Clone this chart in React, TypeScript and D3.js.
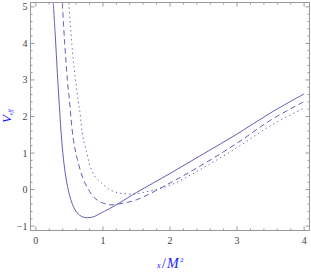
import React from "react";
import * as d3 from "d3";

const xTicks = [0, 1, 2, 3, 4];
const yTicks = [-1, 0, 1, 2, 3, 4, 5];

const solidX = [0.26, 0.29, 0.32, 0.35, 0.385, 0.42, 0.46, 0.52, 0.58, 0.65, 0.72, 0.78, 0.87, 0.95, 1.1, 1.25, 1.5, 2.0, 2.5, 3.0, 3.5, 4.0];
const solidY = [5.1, 4.2, 3.2, 2.3, 1.36, 0.7, 0.2, -0.27, -0.54, -0.7, -0.76, -0.77, -0.74, -0.66, -0.52, -0.36, -0.08, 0.44, 0.98, 1.52, 2.1, 2.62];

const dashedX = [0.395, 0.43, 0.47, 0.5, 0.56, 0.62, 0.71, 0.8, 0.87, 0.95, 1.05, 1.12, 1.25, 1.5, 2.0, 2.5, 3.0, 3.5, 4.0];
const dashedY = [5.1, 4.0, 3.0, 2.45, 1.36, 0.82, 0.27, -0.05, -0.22, -0.33, -0.4, -0.42, -0.39, -0.28, 0.18, 0.7, 1.27, 1.9, 2.41];

const dottedX = [0.49, 0.56, 0.63, 0.66, 0.68, 0.71, 0.76, 0.81, 0.88, 0.98, 1.1, 1.23, 1.45, 1.6, 2.0, 2.5, 3.0, 3.5, 4.0];
const dottedY = [5.1, 3.5, 2.45, 2.08, 1.72, 1.36, 1.0, 0.63, 0.36, 0.18, 0.0, -0.09, -0.12, -0.08, 0.12, 0.6, 1.15, 1.75, 2.23];

const W = 311, H = 273;
const L = 30.5, R = 309.5, T = 2.5, B = 230.5;

export default function App() {
  const x = d3.scaleLinear().domain([-0.08, 4.08]).range([L, R]);
  const y = d3.scaleLinear().domain([-1.12, 5.12]).range([B, T]);
  const line = d3
    .line<[number, number]>()
    .x((d) => x(d[0]))
    .y((d) => y(d[1]))
    .curve(d3.curveCatmullRom.alpha(0.5));
  const mk = (xs: number[], ys: number[]) => xs.map((v, i) => [v, ys[i]] as [number, number]);

  const xMinor = d3.range(0, 4.001, 0.2).filter((v) => Math.abs(v - Math.round(v)) > 1e-6);
  const yMinor = d3.range(-1, 5.001, 0.2).filter((v) => Math.abs(v - Math.round(v)) > 1e-6);
  const frameColor = "#999";
  const curveColor = "#6060b4";

  return (
    <svg width={W} height={H} style={{ position: "absolute", left: 0, top: 0 }}>
      <defs>
        <clipPath id="plotclip">
          <rect x={L} y={T} width={R - L} height={B - T} />
        </clipPath>
      </defs>
      <rect x={0} y={0} width={W} height={H} fill="white" />
      <g clipPath="url(#plotclip)" fill="none" stroke={curveColor} strokeWidth={1}>
        <path d={line(mk(solidX, solidY)) || ""} />
        <path d={line(mk(dashedX, dashedY)) || ""} strokeDasharray="5.5,3.5" />
        <path d={line(mk(dottedX, dottedY)) || ""} strokeDasharray="1.3,3.2" />
      </g>
      <rect x={L} y={T} width={R - L} height={B - T} fill="none" stroke={frameColor} strokeWidth={1} />
      <g stroke={frameColor} strokeWidth={1}>
        {xTicks.map((t) => (
          <g key={"xt" + t}>
            <line x1={x(t)} x2={x(t)} y1={B} y2={B - 4} />
            <line x1={x(t)} x2={x(t)} y1={T} y2={T + 4} />
          </g>
        ))}
        {xMinor.map((t) => (
          <g key={"xm" + t}>
            <line x1={x(t)} x2={x(t)} y1={B} y2={B - 2} />
            <line x1={x(t)} x2={x(t)} y1={T} y2={T + 2} />
          </g>
        ))}
        {yTicks.map((t) => (
          <g key={"yt" + t}>
            <line x1={L} x2={L + 4} y1={y(t)} y2={y(t)} />
            <line x1={R} x2={R - 4} y1={y(t)} y2={y(t)} />
          </g>
        ))}
        {yMinor.map((t) => (
          <g key={"ym" + t}>
            <line x1={L} x2={L + 2} y1={y(t)} y2={y(t)} />
            <line x1={R} x2={R - 2} y1={y(t)} y2={y(t)} />
          </g>
        ))}
      </g>
      <g fontFamily="Liberation Serif, serif" fontSize={10} fill="#444">
        {xTicks.map((t) => (
          <text key={"xl" + t} x={x(t)} y={244} textAnchor="middle">
            {String(t)}
          </text>
        ))}
        {yTicks.map((t) => (
          <text key={"yl" + t} x={L - 3} y={y(t) + 3.5} textAnchor="end">
            {t < 0 ? "\u2212" + Math.abs(t) : String(t)}
          </text>
        ))}
      </g>
      <g fontFamily="Liberation Serif, serif" fontStyle="italic" fill="#1a1aff">
        <text transform="translate(11,123) rotate(-90)" fontSize={13}>
          V
          <tspan fontSize={5.5} dy={1.5}>eff</tspan>
        </text>
        <text x={157} y={268} fontSize={8}>x</text>
        <text x={162} y={268} fontSize={14} fontStyle="normal">/</text>
        <text x={167} y={268} fontSize={14}>M</text>
        <text x={180} y={262} fontSize={7} fontStyle="normal">2</text>
      </g>
    </svg>
  );
}
